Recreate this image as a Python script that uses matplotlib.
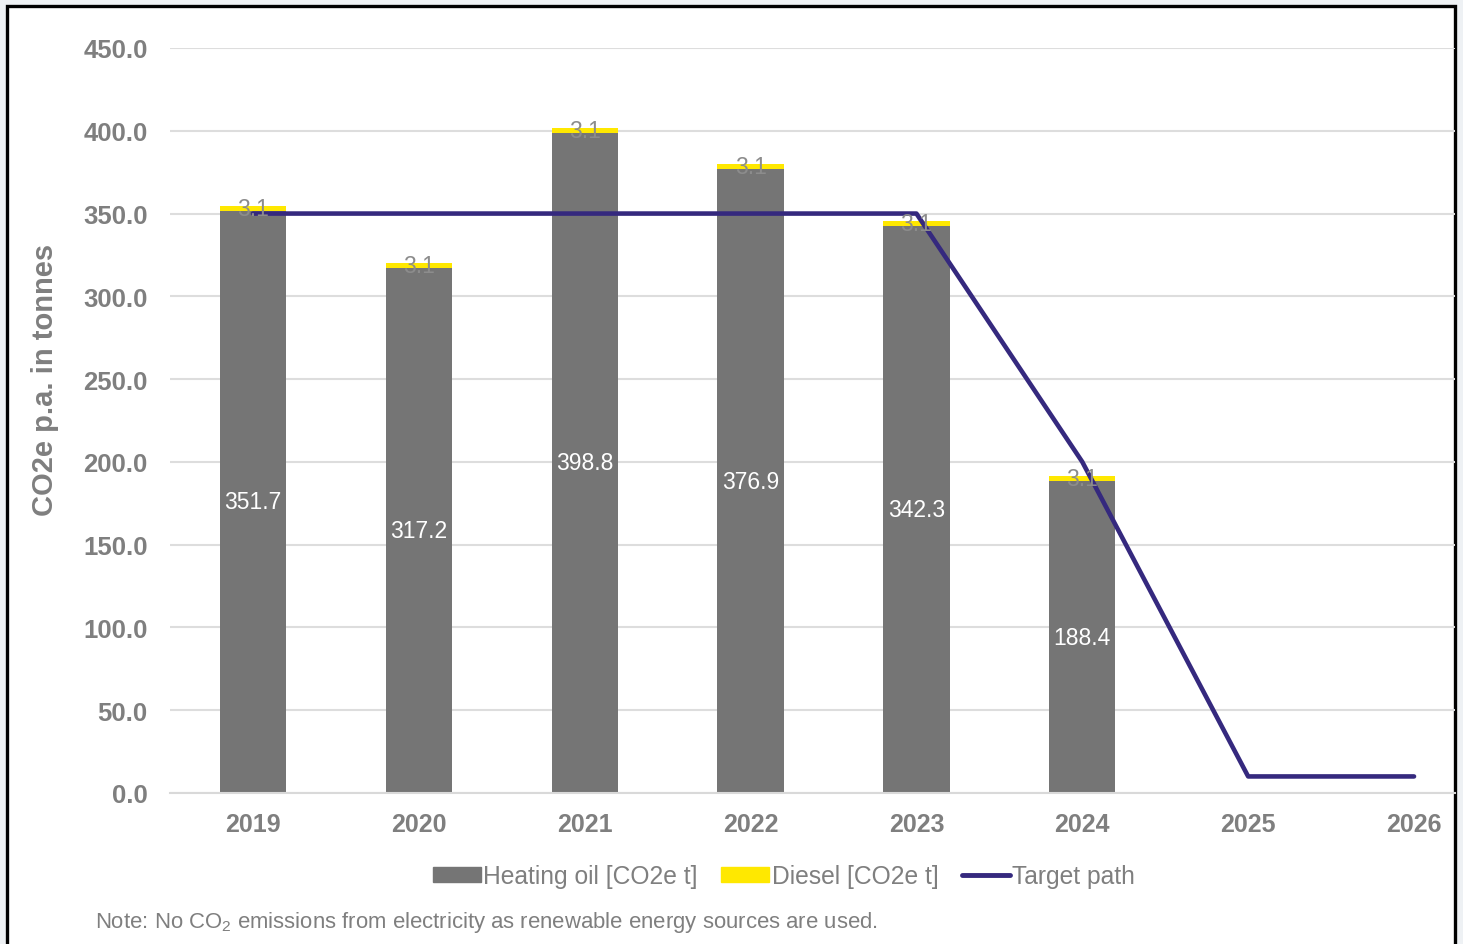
import numpy as np
import matplotlib.pyplot as plt
from matplotlib.patches import Rectangle
from matplotlib.lines import Line2D

plt.rcParams['font.family'] = ['Liberation Sans', 'DejaVu Sans']
plt.rcParams['mathtext.fontset'] = 'custom'
plt.rcParams['mathtext.rm'] = 'Liberation Sans'

years = ["2019", "2020", "2021", "2022", "2023", "2024", "2025", "2026"]
bar_years = ["2019", "2020", "2021", "2022", "2023", "2024"]
heating_oil = [351.7, 317.2, 398.8, 376.9, 342.3, 188.4]
diesel = [3.1, 3.1, 3.1, 3.1, 3.1, 3.1]
target_path = [350, 350, 350, 350, 350, 200, 10, 10]

GRAY = "#757575"
YELLOW = "#FFE800"
PURPLE = "#35297E"
TEXT = "#7F7F7F"


def main():
    fig = plt.figure(figsize=(14.63, 9.45), dpi=100)
    fig.patch.set_facecolor("#EEF1F4")

    # white card with black border
    frame = Rectangle((7 / 1463, -0.05), (1455 - 7) / 1463, 1 - 7 / 945 + 0.05,
                      transform=fig.transFigure, facecolor="white",
                      edgecolor="black", linewidth=2.4, zorder=-5)
    fig.patches.append(frame)

    ax = fig.add_axes([170 / 1463, 1 - 794 / 945, (1455 - 170) / 1463, (794 - 49) / 945])
    ax.set_facecolor("none")
    ax.set_zorder(2)

    x = np.arange(len(years))
    xb = np.arange(len(bar_years))

    ax.bar(xb, heating_oil, width=0.4, color=GRAY, zorder=2, label="Heating oil [CO2e t]")
    ax.bar(xb, diesel, width=0.4, bottom=heating_oil, color=YELLOW, zorder=2,
           label="Diesel [CO2e t]")
    ax.plot(x, target_path, color=PURPLE, linewidth=3.3, zorder=3,
            solid_capstyle="round", label="Target path")

    for i in xb:
        ax.text(i, heating_oil[i] / 2, f"{heating_oil[i]:.1f}", ha="center", va="center",
                color="white", fontsize=16.5, zorder=4)
        ax.text(i, heating_oil[i] + diesel[i] / 2, f"{diesel[i]:.1f}", ha="center",
                va="center", color="#8C8C8C", fontsize=16.5, zorder=4)

    ax.set_ylim(0, 450)
    ax.set_xlim(-0.5, (1455 - 252) / 166)
    ax.set_yticks(np.arange(0, 451, 50))
    ax.set_yticklabels([f"{v:.1f}" for v in np.arange(0, 451, 50)])
    ax.set_xticks(x)
    ax.set_xticklabels(years)
    ax.tick_params(axis="both", length=0, labelcolor=TEXT)
    ax.tick_params(axis="y", pad=16, labelsize=18.5)
    ax.tick_params(axis="x", pad=14, labelsize=18)
    for lbl in ax.get_xticklabels() + ax.get_yticklabels():
        lbl.set_fontweight("bold")

    ax.grid(axis="y", color="#DDDDDD", linewidth=1.5, zorder=0)
    for side in ["top", "right", "left"]:
        ax.spines[side].set_visible(False)
    ax.spines["bottom"].set_color("#D9D9D9")
    ax.spines["bottom"].set_linewidth(1.5)

    fig.text(45 / 1463, 1 - 380 / 945, "CO2e p.a. in tonnes", rotation=90,
             ha="center", va="center", color=TEXT, fontsize=21, fontweight="bold")

    handles = [
        Rectangle((0, 0), 1, 1, color=GRAY),
        Rectangle((0, 0), 1, 1, color=YELLOW),
        Line2D([0], [0], color=PURPLE, linewidth=3.5, solid_capstyle="round"),
    ]
    labels = ["Heating oil [CO2e t]", "Diesel [CO2e t]", "Target path"]
    fig.legend(handles, labels, loc="center", ncol=3,
               bbox_to_anchor=(784 / 1463, 1 - 877 / 945), frameon=False,
               fontsize=17.7, handlelength=1.95, handleheight=0.55,
               handletextpad=0.1, columnspacing=0.95, labelcolor=TEXT)

    fig.text(95 / 1463, 1 - 923 / 945,
             "Note: No CO$_2$ emissions from electricity as renewable energy sources are used.",
             ha="left", va="center", color=TEXT, fontsize=15.9)

    fig.savefig("out.png", dpi=100, facecolor=fig.get_facecolor())


if __name__ == "__main__":
    main()
